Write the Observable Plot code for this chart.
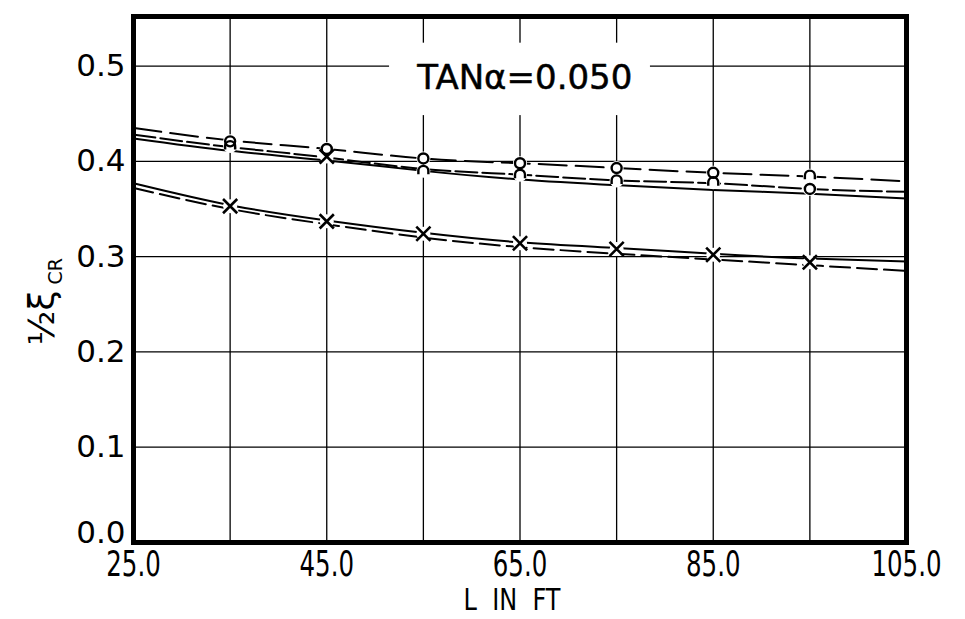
<!DOCTYPE html>
<html><head><meta charset="utf-8">
<script src="https://cdn.jsdelivr.net/npm/d3@7"></script>
<script src="https://cdn.jsdelivr.net/npm/@observablehq/plot@0.6"></script>
<style>body{margin:0;background:#fff}</style>
</head><body><div id="chart"></div>
<script>
// ---- data ----
const L = [25, 35, 45, 55, 65, 75, 85, 95, 105];
const upperDashed = [0.435, 0.422, 0.413, 0.403, 0.398, 0.393, 0.388, 0.384, 0.379];
const upperMid    = [0.428, 0.415, 0.404, 0.392, 0.386, 0.380, 0.377, 0.371, 0.368];
const upperSolid  = [0.424, 0.411, 0.401, 0.390, 0.381, 0.375, 0.370, 0.366, 0.361];
const lowerSolid  = [0.377, 0.354, 0.338, 0.325, 0.315, 0.309, 0.303, 0.298, 0.295];
const lowerDashed = [0.372, 0.350, 0.334, 0.320, 0.310, 0.303, 0.297, 0.291, 0.285];

const circleL = [35, 45, 55, 65, 75, 85, 95];
const circleV = [0.421, 0.413, 0.403, 0.398, 0.393, 0.388, 0.371];
const archL   = [35, 55, 65, 75, 85, 95];
const archV   = [0.416, 0.390, 0.386, 0.380, 0.378, 0.385];
const crossL  = [45, 35, 45, 55, 65, 75, 85, 95];
const crossV  = [0.405, 0.353, 0.337, 0.324, 0.314, 0.308, 0.302, 0.294];

const xTicks = [25, 45, 65, 85, 105];
const xGrid  = [35, 45, 55, 65, 75, 85, 95];
const yTicks = [0, 0.1, 0.2, 0.3, 0.4, 0.5];
const yGrid  = [0.1, 0.2, 0.3, 0.4, 0.5];
const titleText = "TANα=0.050";
const xLabel = "L  IN  FT";
const yLabelMain = "½ξ";
const yLabelSub = "CR";
// ----------------

const pts = (xs, ys) => xs.map((x, i) => ({x, y: ys[i]}));

const arch = {
  draw(ctx, size) {
    const r = Math.sqrt(size / Math.PI);
    ctx.moveTo(-r, r * 0.7);
    ctx.lineTo(-r, 0);
    ctx.arc(0, 0, r, Math.PI, 2 * Math.PI);
    ctx.lineTo(r, r * 0.7);
  }
};

const lineOpts = {x: "x", y: "y", stroke: "black", strokeWidth: 2, curve: "natural"};
const allMarkers = [...pts(circleL, circleV), ...pts(archL, archV), ...pts(crossL, crossV)];

const chart = Plot.plot({
  width: 965, height: 619,
  marginLeft: 133, marginRight: 59, marginTop: 16, marginBottom: 77,
  x: {domain: [25, 105]},
  y: {domain: [0, 0.552]},
  style: {fontFamily: "DejaVu Sans", background: "white", color: "black"},
  marks: [
    Plot.ruleX(xGrid, {stroke: "black", strokeWidth: 1.3}),
    Plot.ruleY(yGrid, {stroke: "black", strokeWidth: 1.3}),
    // white box behind title
    Plot.rect([{x1: 51.5, x2: 78.5, y1: 0.448, y2: 0.524}], {x1: "x1", x2: "x2", y1: "y1", y2: "y2", fill: "white"}),
    Plot.text([titleText], {x: 65.5, y: 0.487, text: d => d, fontSize: 34, fill: "black", stroke: "black", strokeWidth: 0.5}),
    Plot.line(pts(L, upperSolid), {...lineOpts}),
    Plot.line(pts(L, upperMid), {...lineOpts, strokeDasharray: "22,5"}),
    Plot.line(pts(L, upperDashed), {...lineOpts, strokeDasharray: "28,9"}),
    Plot.line(pts(L, lowerSolid), {...lineOpts}),
    Plot.line(pts(L, lowerDashed), {...lineOpts, strokeDasharray: "20,7"}),
    // white gaps around markers
    Plot.dot(allMarkers, {x: "x", y: "y", r: 7, fill: "white", stroke: "none"}),
    Plot.dot(pts(circleL, circleV), {x: "x", y: "y", r: 5, fill: "white", stroke: "black", strokeWidth: 2.4}),
    Plot.dot(pts(archL, archV), {x: "x", y: "y", r: 5, symbol: arch, fill: "none", stroke: "black", strokeWidth: 2.4}),
    Plot.dot(pts(crossL, crossV), {x: "x", y: "y", r: 6.5, symbol: "times", stroke: "black", strokeWidth: 2.6}),
    Plot.frame({stroke: "black", strokeWidth: 5}),
    Plot.axisY(yTicks, {tickSize: 0, tickPadding: 8, tickFormat: d => d.toFixed(1), fontSize: 31, label: null}),
    Plot.axisX(xTicks, {tickSize: 0, tickPadding: 9, tickFormat: d => d.toFixed(1), fontSize: 35, label: null}),
    Plot.text([xLabel], {frameAnchor: "bottom", lineAnchor: "middle", dy: 58, dx: -8, text: d => d, fontSize: 30, fill: "black"}),
    Plot.text([yLabelMain], {frameAnchor: "left", textAnchor: "start", lineAnchor: "middle", dx: -91, dy: 66, rotate: -90, text: d => d, fontSize: 36, fill: "black"}),
    Plot.text([yLabelSub], {frameAnchor: "left", textAnchor: "start", lineAnchor: "middle", dx: -78, dy: 5, rotate: -90, text: d => d, fontSize: 19, fill: "black"})
  ]
});
document.getElementById("chart").appendChild(chart);

// condense x-axis lettering like the stencil lettering of the original
const svg = d3.select(chart);
svg.selectAll('g[aria-label="x-axis tick label"] text').each(function () {
  const t = this.getAttribute("transform") || "";
  this.setAttribute("transform", t + " scale(0.7,1)");
});
svg.selectAll('g[aria-label="text"] text').filter(function () { return this.textContent === xLabel; }).each(function () {
  const t = this.getAttribute("transform") || "";
  this.setAttribute("transform", t + " scale(0.8,1)");
});
// the original's "0.0" sits a little above the baseline corner
svg.selectAll('g[aria-label="y-axis tick label"] text').filter(function () { return this.textContent === "0.0"; }).each(function () {
  const t = this.getAttribute("transform") || "";
  this.setAttribute("transform", t + " translate(0,-9)");
});
</script>
</body></html>
